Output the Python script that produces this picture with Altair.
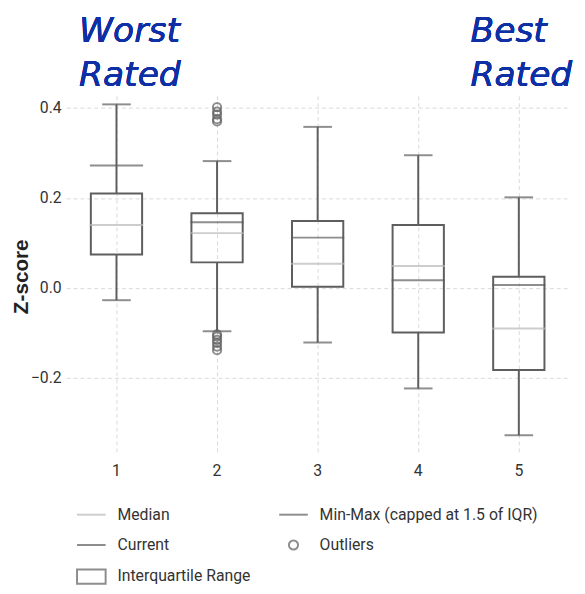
import altair as alt
import pandas as pd

# ---- data ----
categories = ["1", "2", "3", "4", "5"]
whisker_low = [-0.027, -0.096, -0.121, -0.223, -0.327]
q1 = [0.0745, 0.057, 0.003, -0.099, -0.182]
median = [0.140, 0.122, 0.054, 0.049, -0.090]
current = [0.272, 0.146, 0.112, 0.0175, 0.0066]
q3 = [0.210, 0.166, 0.149, 0.140, 0.025]
whisker_high = [0.408, 0.282, 0.358, 0.295, 0.2015]

outlier_cats = ["2"] * 11
outlier_vals = [0.402, 0.392, 0.385, 0.375, 0.370,
                -0.103, -0.108, -0.115, -0.122, -0.130, -0.138]

legend_items = ["Median", "Current", "Interquartile Range",
                "Min-Max (capped at 1.5 of IQR)", "Outliers"]
legend_colors = ["#b8b8b8", "#5e5e5e", "#5e5e5e", "#5e5e5e", "#5e5e5e"]

y_ticks = [-0.2, 0.0, 0.2, 0.4]

boxes = pd.DataFrame({
    "rating": categories, "lo": whisker_low, "q1": q1, "median": median,
    "current": current, "q3": q3, "hi": whisker_high,
})
outliers = pd.DataFrame({"rating": outlier_cats, "value": outlier_vals})

FONT = "Roboto, sans-serif"
BLUE = "#0f2fa5"

color_scale = alt.Scale(domain=legend_items, range=legend_colors)

shape_expr = ("datum.value === 'Outliers' ? 'M-0.32,0A0.32,0.32,0,1,1,0.32,0A0.32,0.32,0,1,1,-0.32,0Z' : "
              "(datum.value === 'Interquartile Range' ? 'M-1,-0.5H1V0.5H-1Z' : 'M-1,0H1')")

legend = alt.Legend(
    title=None, orient="none", legendX=10, legendY=409, columns=2,
    columnPadding=25, rowPadding=7, labelFont=FONT, labelFontSize=16,
    labelColor="#333333", labelOffset=11, labelLimit=400, symbolSize=841,
    symbolStrokeWidth=2, symbolType=alt.ExprRef(shape_expr),
    symbolFillColor="transparent", symbolOpacity=1,
)

x_enc = alt.X(
    "rating:O", scale=alt.Scale(domain=categories, paddingInner=0, paddingOuter=0),
    axis=alt.Axis(title=None, labelAngle=0, domain=False, ticks=False, grid=True,
                  gridDash=[4, 3], gridColor="#d9d9d9", labelFont=FONT,
                  labelFontSize=16, labelColor="#333333", labelPadding=10),
)
y_scale = alt.Scale(domain=[-0.366, 0.427], nice=False, zero=False)
y_axis = alt.Axis(title="Z-score", values=y_ticks, format=".1f", domain=False,
                  ticks=False, grid=True, gridDash=[4, 3], gridColor="#d9d9d9",
                  labelFont=FONT, labelFontSize=16, labelColor="#333333",
                  labelPadding=5, titleFont="Liberation Sans", titleFontSize=21,
                  titleFontWeight="bold", titleColor="#222222",
                  titleX=-45, titleY=183, titleAngle=270, titleAlign="center",
                  titleBaseline="middle")


def col(first=False):
    if first:
        return alt.Color("item:N", scale=color_scale, legend=legend)
    return alt.Color("item:N", scale=color_scale)


base = alt.Chart(boxes)
WH = "'Min-Max (capped at 1.5 of IQR)'"
LINE = dict(filled=False, thickness=0.01, strokeWidth=2)

upper = base.mark_rule(strokeWidth=2).transform_calculate(item=WH).encode(
    x=x_enc, y=alt.Y("q3:Q", scale=y_scale, axis=y_axis), y2="hi", color=col(True),
)
lower = base.mark_rule(strokeWidth=2).transform_calculate(item=WH).encode(
    x=x_enc, y=alt.Y("lo:Q", scale=y_scale), y2="q1", color=col(),
)
cap_hi = base.mark_tick(size=27, **LINE).transform_calculate(item=WH).encode(
    x=x_enc, y=alt.Y("hi:Q", scale=y_scale), color=col(),
)
cap_lo = base.mark_tick(size=27, **LINE).transform_calculate(item=WH).encode(
    x=x_enc, y=alt.Y("lo:Q", scale=y_scale), color=col(),
)
box = base.mark_bar(filled=False, size=52, strokeWidth=2).transform_calculate(
    item="'Interquartile Range'").encode(
    x=x_enc, y=alt.Y("q1:Q", scale=y_scale), y2="q3", color=col(),
)
med = base.mark_tick(size=52, **LINE).transform_calculate(item="'Median'").encode(
    x=x_enc, y=alt.Y("median:Q", scale=y_scale), color=col(),
)
cur = base.mark_tick(size=52, **LINE).transform_calculate(item="'Current'").encode(
    x=x_enc, y=alt.Y("current:Q", scale=y_scale), color=col(),
)
outl = alt.Chart(outliers).mark_point(filled=False, size=70, strokeWidth=2).transform_calculate(
    item="'Outliers'").encode(
    x=x_enc, y=alt.Y("value:Q", scale=y_scale), color=col(),
)

worst = base.mark_text(
    text=["Worst", "Rated"], align="left", baseline="alphabetic", lineHeight=45,
    font="DejaVu Sans", fontStyle="italic", fontSize=35, color=BLUE, dx=-38,
).encode(x=alt.XDatum("1", type="ordinal"), y=alt.value(-55))
best = base.mark_text(
    text=["Best", "Rated"], align="left", baseline="alphabetic", lineHeight=45,
    font="DejaVu Sans", fontStyle="italic", fontSize=35, color=BLUE, dx=-49,
).encode(x=alt.XDatum("5", type="ordinal"), y=alt.value(-55))

chart = alt.layer(upper, lower, cap_hi, cap_lo, box, med, cur, outl, worst, best).properties(
    width=510, height=362,
    padding={"left": 59, "top": 85, "right": 8, "bottom": 130},
    autosize=alt.AutoSizeParams(type="none"),
).configure_view(stroke=None)

chart.save("out.html", embed_options={"renderer": "svg", "actions": False})
